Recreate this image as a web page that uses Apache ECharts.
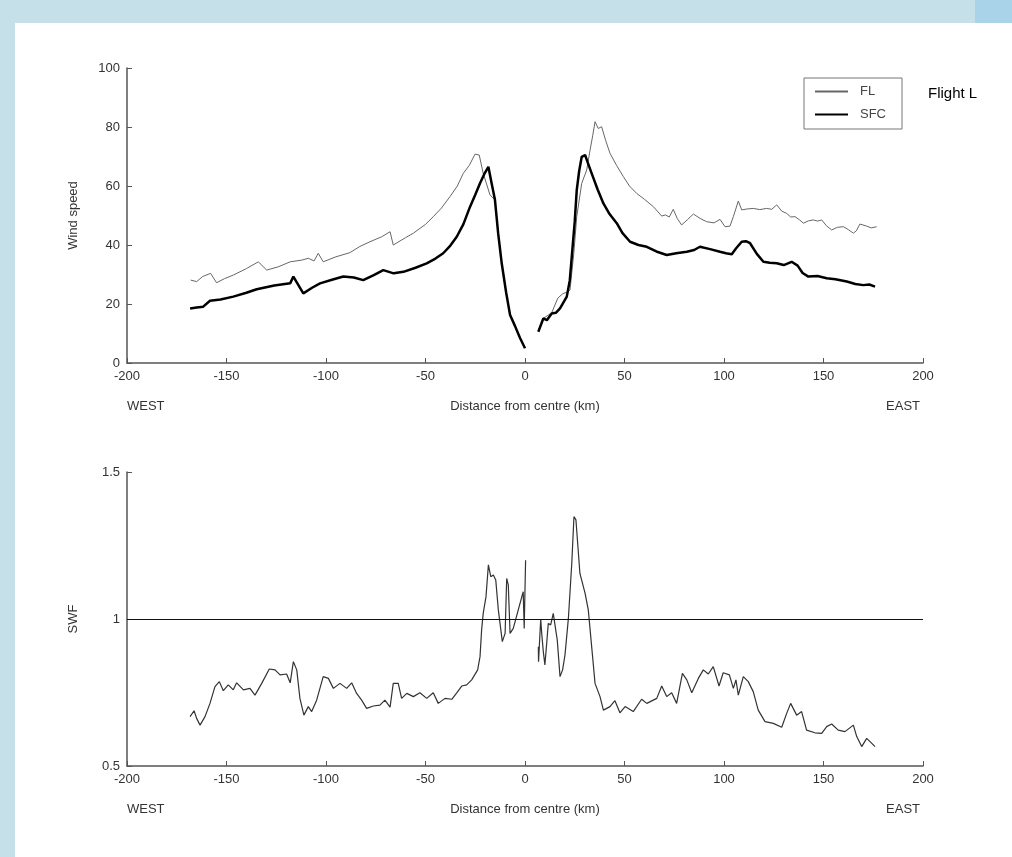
<!DOCTYPE html>
<html>
<head>
<meta charset="utf-8">
<script src="https://cdn.jsdelivr.net/npm/echarts@6/dist/echarts.min.js"></script>
<style>
  html, body { margin: 0; padding: 0; }
  body { width: 1012px; height: 857px; background: #c6e0ea; position: relative; overflow: hidden; }
  #corner { position: absolute; left: 975px; top: 0; width: 37px; height: 23px; background: #a9d3e8; }
  #panel { position: absolute; left: 15px; top: 23px; right: 0; bottom: 0; background: #fff; }
  #chart { position: absolute; left: 0; top: 0; width: 1012px; height: 857px; }
</style>
</head>
<body>
<div id="corner"></div>
<div id="panel"></div>
<div id="chart"></div>
<script>
// distance from centre (km) and wind speed, west side of the eye
var flWestKm = [-168,-165,-162,-158,-155,-151,-146.6,-140,-134,-129.8,-124,-118,-112,-108.9,-106,-103.9,-101.4,-95,-88,-83,-77.9,-72,-67.8,-66.2,-60,-56.1,-50,-46.1,-42,-37.7,-34,-31,-28,-25.1,-23,-21,-17.6,-15.1,-13.5,-11.7,-9.5,-7.5,-5,-2.5,0];
var flWestVal = [28.1,27.6,29.3,30.4,27.2,28.6,29.8,32,34.3,31.5,32.6,34.3,34.9,35.5,34.6,37.2,34.3,36,37.4,39.5,41.1,42.8,44.5,40,42.5,44,47,49.6,52.5,56.4,60,64.3,67,70.8,70.5,64.3,57,55.3,44,33.8,24,16.3,12.5,8.5,5];
var sfcWestKm = [-168.3,-165,-161.7,-158.3,-153,-146.6,-140,-134.8,-126,-118,-116.4,-111.4,-107,-103,-97,-91.3,-86,-81.3,-76,-71.2,-66,-61.1,-55,-49.4,-45,-41.1,-37.5,-34.3,-31,-27.6,-25,-22.6,-20.5,-18.4,-16.8,-15.1,-13.5,-11.7,-9.5,-7.5,-5,-2.5,0];
var sfcWestVal = [18.5,18.8,19.1,21.1,21.5,22.5,23.8,25,26.3,27,29.3,23.6,25.5,27,28.2,29.3,29,28.1,29.8,31.5,30.4,30.9,32.3,33.8,35.4,37.2,39.8,42.8,47,53,57,60.9,64,66.5,61,55.3,44,33.8,24,16.3,12.5,8.5,5];

// east side of the eye
var flEastKm = [6.7,9.2,13.4,16.5,19,21,22.6,24.5,26,28.5,31,32.7,34,35.2,36.8,38.5,40.5,42.7,46,49.4,52.5,56.1,60,64.5,68.7,70.5,72.5,74.5,76.5,78.7,81.5,84.6,88,91.3,95,98,100.5,103,104.7,107.2,108.9,111.5,114.7,118,121.4,124,126.5,129,131.5,133.5,135.7,138,139.9,142.5,144.9,147,149.1,151.5,154.1,157,160,162.5,165,166.5,168.3,171.7,174,176.7];
var flEastVal = [10.6,15.1,17,22,23.5,24,24.7,37,49.6,60.9,65.4,72.2,77,81.8,79.5,80.1,75.5,71.1,67,63.2,60,57.5,55.5,53,49.8,50.2,49.5,52.1,49,46.8,48.5,50.5,49,47.9,47.5,48.7,46.2,46.4,49.6,54.9,51.9,52.2,52.4,52,52.4,52.1,53.6,51.5,50.7,49.5,49.6,48.5,47.4,48.2,48.5,48.1,48.5,46.5,45.1,46,46.2,45.2,44,44.8,47.1,46.4,45.8,46.2];
var sfcEastKm = [6.7,9.2,11,13.4,15.5,17.6,21,22.5,23.5,25,26,27.2,28.5,30.2,31.5,33.5,36.5,39.4,42.5,46.1,49,52.8,57,61.2,66,71.2,76,81.3,85,87.9,93,98,101,103.9,106,108.9,111,113.1,116.5,119.8,123,126.5,130,134,137,139.5,142.4,147,151.6,156,161.7,166,170,173,175.9];
var sfcEastVal = [10.6,15.1,14.5,16.8,17,18.5,22.5,28,36,48,58.6,65,69.9,70.5,68,64.3,58.8,54.1,50.5,47.4,44,41.1,40,39.4,37.8,36.6,37.2,37.7,38.3,39.4,38.6,37.7,37.2,36.9,38.8,41.1,41.3,40.6,37,34.3,34,33.8,33.2,34.3,33,30.5,29.3,29.5,28.7,28.4,27.6,26.8,26.4,26.6,25.9];

// surface wind factor
var swfWestKm = [-168.3,-166.3,-165,-163.3,-160.8,-158.3,-155.8,-153.6,-151.6,-149.1,-146.6,-144.9,-141.5,-138.2,-135.7,-132.3,-128.5,-125.6,-123.1,-119.8,-118,-116.4,-114.7,-113.1,-111.1,-108.9,-107.2,-104.7,-101.4,-98.8,-96.3,-93,-89.6,-87.1,-84.6,-82.1,-79.6,-76.2,-72.9,-70.4,-67.8,-66.2,-63.7,-62,-59.4,-56.1,-52.8,-49.4,-46.1,-43.6,-40.2,-36.8,-34.3,-31.8,-29.3,-26.8,-23.8,-22.6,-21.8,-21,-19.6,-18.4,-17.2,-15.9,-14.7,-13.4,-11.4,-10,-9.2,-8.4,-7.5,-5.9,-2.5,-0.9,-0.4,0.3];
var swfWestVal = [0.668,0.688,0.662,0.639,0.668,0.713,0.77,0.787,0.756,0.776,0.759,0.783,0.759,0.764,0.741,0.781,0.83,0.827,0.81,0.813,0.783,0.855,0.827,0.73,0.673,0.702,0.685,0.724,0.804,0.798,0.764,0.781,0.764,0.783,0.747,0.724,0.696,0.704,0.707,0.724,0.7,0.781,0.781,0.73,0.747,0.736,0.749,0.73,0.749,0.713,0.73,0.727,0.749,0.772,0.776,0.793,0.827,0.872,0.963,1.019,1.076,1.184,1.144,1.15,1.133,1.031,0.923,0.951,1.138,1.116,0.951,0.968,1.053,1.093,0.968,1.2];
var swfEastKm = [6.7,6.8,7.9,8.4,9.2,10,10.9,11.7,12.9,14.2,15.1,16.2,17.6,18.9,20.1,21.8,23.5,24.6,25.6,27.6,30.2,31.8,33.5,35.2,37.7,39.4,42.7,45.2,47.7,50.3,54.4,58.6,61.2,66.2,68.7,71.2,73.7,76.2,79.1,81.3,83.8,87.1,89.6,92.1,94.6,97.5,99.6,102.7,104.7,106,107.2,109.7,112.2,114.7,117.2,120.6,124.8,129,131.5,133.5,136.5,139,141.5,145.7,149.1,151.6,154.1,157.4,160.8,165,166.7,169.2,171.7,173.4,175.9];
var swfEastVal = [0.906,0.855,1.0,0.951,0.889,0.844,0.917,0.985,0.98,1.019,1.025,0.929,0.804,0.827,0.878,1.002,1.189,1.348,1.337,1.155,1.087,1.031,0.906,0.781,0.736,0.69,0.702,0.722,0.681,0.702,0.685,0.727,0.713,0.73,0.772,0.736,0.749,0.713,0.815,0.793,0.749,0.798,0.827,0.813,0.838,0.772,0.817,0.81,0.764,0.793,0.741,0.804,0.787,0.753,0.69,0.651,0.645,0.632,0.679,0.713,0.673,0.685,0.622,0.613,0.611,0.634,0.643,0.622,0.617,0.639,0.6,0.566,0.594,0.583,0.566];
var swfRef = 1;

var xTicks = { min: -200, max: 200, interval: 50 };

function pairs(xs, ys) {
  return xs.map(function (x, i) { return [x, ys[i]]; });
}

var font = 'Liberation Sans, Arial, sans-serif';
var axisGray = '#555';

function xAx(idx) {
  return {
    type: 'value', gridIndex: idx,
    min: xTicks.min, max: xTicks.max, interval: xTicks.interval,
    name: 'Distance from centre (km)', nameLocation: 'middle', nameGap: 37,
    nameTextStyle: { color: '#333', fontSize: 13, fontFamily: font },
    axisLine: { show: true, onZero: false, lineStyle: { color: axisGray, width: 1.5 } },
    axisTick: { show: true, inside: true, length: 5, lineStyle: { color: axisGray } },
    axisLabel: { color: '#333', fontSize: 13, fontFamily: font, margin: 7 },
    splitLine: { show: false }
  };
}
function yAx(idx, name, mn, mx, step) {
  return {
    type: 'value', gridIndex: idx, min: mn, max: mx, interval: step,
    name: name, nameLocation: 'middle', nameGap: 47,
    nameTextStyle: { color: '#333', fontSize: 13, fontFamily: font },
    axisLine: { show: true, onZero: false, lineStyle: { color: axisGray, width: 1.5 } },
    axisTick: { show: true, inside: true, length: 5, lineStyle: { color: axisGray } },
    axisLabel: { color: '#333', fontSize: 13, fontFamily: font, margin: 7 },
    splitLine: { show: false }
  };
}

var chart = echarts.init(document.getElementById('chart'));
chart.setOption({
  backgroundColor: 'transparent',
  animation: false,
  grid: [
    { left: 127, top: 68, width: 796, height: 295 },
    { left: 127, top: 472, width: 796, height: 294 }
  ],
  xAxis: [xAx(0), xAx(1)],
  yAxis: [yAx(0, 'Wind speed', 0, 100, 20), yAx(1, 'SWF', 0.5, 1.5, 0.5)],
  legend: {
    data: ['FL', 'SFC'],
    orient: 'vertical', left: 804, top: 78,
    padding: [7, 16, 8, 10], itemGap: 10, itemWidth: 33, itemHeight: 14,
    borderColor: '#777', borderWidth: 1,
    itemStyle: { opacity: 0 },
    textStyle: { color: '#444', fontSize: 13, fontFamily: font, padding: [0, 0, 0, 7] }
  },
  graphic: [
    { type: 'text', left: 928, top: 86, style: { text: 'Flight L', fill: '#000', font: '15px ' + font } },
    { type: 'text', left: 127, top: 400, style: { text: 'WEST', fill: '#333', font: '13px ' + font } },
    { type: 'text', right: 92, top: 400, style: { text: 'EAST', fill: '#333', font: '13px ' + font } },
    { type: 'text', left: 127, top: 803, style: { text: 'WEST', fill: '#333', font: '13px ' + font } },
    { type: 'text', right: 92, top: 803, style: { text: 'EAST', fill: '#333', font: '13px ' + font } }
  ],
  series: [
    { name: 'FL', type: 'line', xAxisIndex: 0, yAxisIndex: 0, symbol: 'none',
      lineStyle: { color: '#666', width: 1 }, itemStyle: { color: '#666' },
      data: pairs(flWestKm, flWestVal) },
    { name: 'FL', type: 'line', xAxisIndex: 0, yAxisIndex: 0, symbol: 'none',
      lineStyle: { color: '#666', width: 1 }, itemStyle: { color: '#666' },
      data: pairs(flEastKm, flEastVal) },
    { name: 'SFC', type: 'line', xAxisIndex: 0, yAxisIndex: 0, symbol: 'none',
      lineStyle: { color: '#000', width: 2.5 }, itemStyle: { color: '#000' },
      data: pairs(sfcWestKm, sfcWestVal) },
    { name: 'SFC', type: 'line', xAxisIndex: 0, yAxisIndex: 0, symbol: 'none',
      lineStyle: { color: '#000', width: 2.5 }, itemStyle: { color: '#000' },
      data: pairs(sfcEastKm, sfcEastVal) },
    { name: 'SWF', type: 'line', xAxisIndex: 1, yAxisIndex: 1, symbol: 'none',
      lineStyle: { color: '#333', width: 1.2 },
      data: pairs(swfWestKm, swfWestVal),
      markLine: { silent: true, symbol: 'none', label: { show: false },
        lineStyle: { color: '#111', width: 1.2, type: 'solid' },
        data: [{ yAxis: swfRef }] } },
    { name: 'SWF', type: 'line', xAxisIndex: 1, yAxisIndex: 1, symbol: 'none',
      lineStyle: { color: '#333', width: 1.2 },
      data: pairs(swfEastKm, swfEastVal) }
  ]
});
</script>
</body>
</html>
